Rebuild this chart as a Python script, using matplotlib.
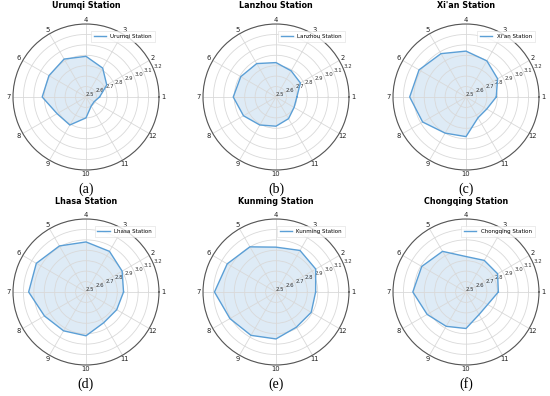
import numpy as np
import matplotlib
matplotlib.use("Agg")
import matplotlib.pyplot as plt

months = ["1", "2", "3", "4", "5", "6", "7", "8", "9", "10", "11", "12"]
stations = ["Urumqi Station", "Lanzhou Station", "Xi'an Station",
            "Lhasa Station", "Kunming Station", "Chongqing Station"]
panel_labels = ["(a)", "(b)", "(c)", "(d)", "(e)", "(f)"]

urumqi = [2.63, 2.73, 2.82, 2.89, 2.92, 2.91, 2.92, 2.82, 2.81, 2.70, 2.60, 2.59]
lanzhou = [2.70, 2.77, 2.79, 2.83, 2.87, 2.89, 2.91, 2.86, 2.81, 2.78, 2.74, 2.70]
xian = [2.79, 2.85, 2.90, 2.94, 2.98, 3.02, 3.04, 2.98, 2.90, 2.88, 2.73, 2.73]
lhasa = [2.86, 2.90, 2.95, 2.98, 3.01, 3.05, 3.05, 2.96, 2.93, 2.92, 2.84, 2.84]
kunming = [2.88, 2.94, 2.96, 2.93, 3.00, 3.04, 3.09, 3.01, 2.98, 2.95, 2.89, 2.89]
chongqing = [2.81, 2.85, 2.85, 2.84, 2.95, 2.99, 3.01, 2.93, 2.88, 2.85, 2.75, 2.74]
series = [urumqi, lanzhou, xian, lhasa, kunming, chongqing]

r_ticks = [2.5, 2.6, 2.7, 2.8, 2.9, 3.0, 3.1, 3.2]

W, H = 550, 396
fig = plt.figure(figsize=(W / 100, H / 100), dpi=100)

centers = [(86, 97), (276, 97), (466, 97), (86, 292), (276, 292), (466, 292)]
R = 73
line_color = "#5b9fd6"

angles = np.deg2rad(np.arange(12) * 30.0)

for i, (name, vals) in enumerate(zip(stations, series)):
    cx, cy = centers[i]
    ax = fig.add_axes([(cx - R) / W, (H - cy - R) / H, 2 * R / W, 2 * R / H],
                      projection="polar")
    th = np.concatenate([angles, angles[:1]])
    rv = np.concatenate([vals, vals[:1]])
    ax.plot(th, rv, color=line_color, linewidth=1.0, label=name)
    ax.fill(th, rv, color=line_color, alpha=0.2, linewidth=0)
    ax.set_ylim(2.5, 3.2)
    ax.set_yticks(r_ticks)
    ax.set_yticklabels([f"{v:.1f}" for v in r_ticks], fontsize=3.9, color="#333333")
    ax.set_rlabel_position(22.5)
    ax.set_xticks(angles)
    ax.set_xticklabels(months, fontsize=4.9, color="#222222")
    ax.tick_params(axis="x", pad=-4, length=0)
    ax.grid(True, color="#d9d9d9", linewidth=0.6)
    ax.spines["polar"].set_color("#555555")
    ax.spines["polar"].set_linewidth(0.8)
    fig.text(cx / W, 1 - (cy - 91) / H, name, ha="center", va="center",
             fontsize=5.8, fontweight="bold")
    leg = ax.legend(loc="upper right", fontsize=4.0, frameon=True, fancybox=False,
                    borderpad=0.5, handlelength=2.2, borderaxespad=0,
                    bbox_to_anchor=(0.97, 0.95))
    leg.get_frame().set_edgecolor("#dddddd")
    leg.get_frame().set_linewidth(0.5)
    fig.text(cx / W, 1 - (cy + 92) / H, panel_labels[i], ha="center", va="center",
             fontsize=10, family="Liberation Serif")

fig.savefig("out.png", dpi=100)
